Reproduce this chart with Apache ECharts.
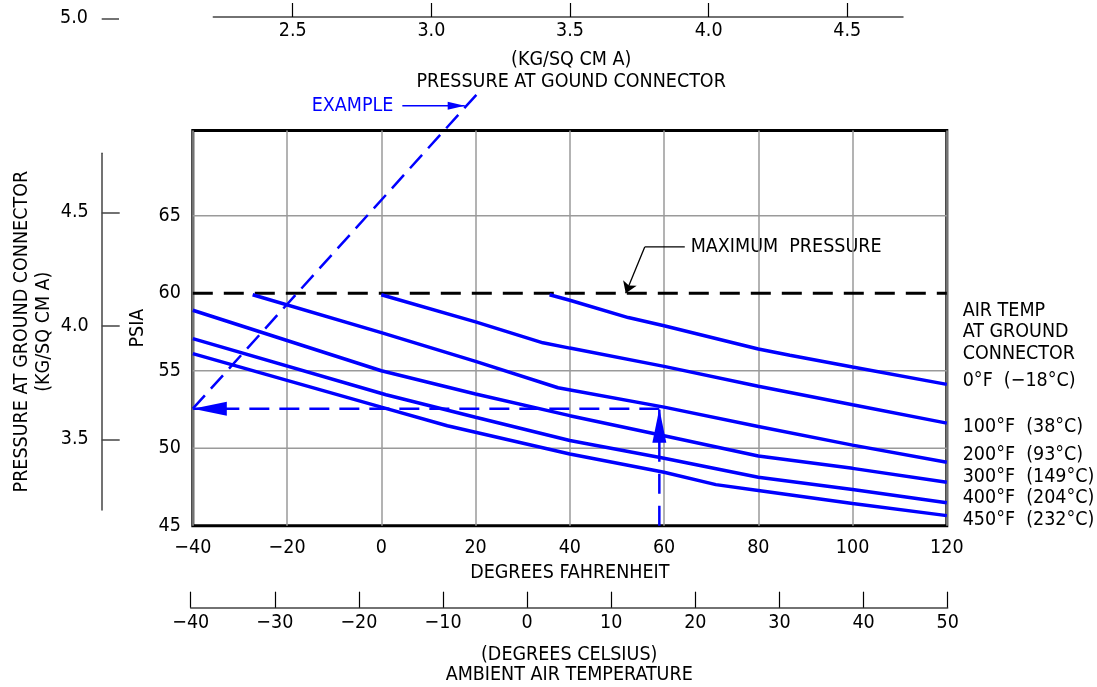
<!DOCTYPE html>
<html><head><meta charset="utf-8">
<script src="https://cdn.jsdelivr.net/npm/echarts@6/dist/echarts.min.js"></script>
<style>html,body{margin:0;padding:0;background:#fff}#c{width:1097px;height:687px}</style>
</head><body><div id="c"></div>
<script>
// ---------------- data ----------------
const fahrenheitRange = [-40, 120];
const celsiusRange = [-40, 50];
const psiaTicks = [45, 50, 55, 60, 65];
const psiaGridLines = [50, 55, 65];
const kgTopTicks = [2.5, 3.0, 3.5, 4.0, 4.5];
const kgLeftTicks = [3.5, 4.0, 4.5];
const maxPressure = 60;

// Air temperature at ground connector curves (x: deg F ambient, y: psia)
const curve0F_temp = [35.7, 40, 52.4, 60, 80, 86.7, 100, 120];
const curve0F_psia = [59.9, 59.55, 58.43, 57.9, 56.4, 56.0, 55.24, 54.12];
const curve100F_temp = [0, 20, 34.3, 40, 60, 80, 100, 120];
const curve100F_psia = [59.9, 58.15, 56.8, 56.46, 55.28, 54.0, 52.8, 51.62];
const curve200F_temp = [-27.3, 0, 20, 37.5, 60, 80, 100, 120];
const curve200F_psia = [59.9, 57.46, 55.6, 53.9, 52.65, 51.4, 50.2, 49.1];
const curve300F_temp = [-40, 0, 20, 40, 60, 80, 100, 120];
const curve300F_psia = [58.9, 55.0, 53.5, 52.1, 50.8, 49.5, 48.7, 47.8];
const curve400F_temp = [-40, 1, 20, 40, 60, 80, 100, 120];
const curve400F_psia = [57.07, 53.45, 52.0, 50.5, 49.35, 48.13, 47.34, 46.48];
const curve450F_temp = [-40, 0, 14, 40, 60, 71, 80, 100, 120];
const curve450F_psia = [56.1, 52.65, 51.45, 49.63, 48.45, 47.65, 47.27, 46.43, 45.65];

const curveLabels = ['0\u00B0F  (\u221218\u00B0C)', '100\u00B0F  (38\u00B0C)', '200\u00B0F  (93\u00B0C)',
                     '300\u00B0F  (149\u00B0C)', '400\u00B0F  (204\u00B0C)', '450\u00B0F  (232\u00B0C)'];
const legendTitle = ['AIR TEMP', 'AT GROUND', 'CONNECTOR'];

// example construction
const exampleTempF = 59;
const examplePsia = 52.55;
const exampleScaleLine = [[-40, 52.55], [20.17, 72.8]];
const exampleNoteArrow = [[4.46, 72.09], [17.7, 72.09]];
const maxPressureLeader = [[64.4, 62.99], [55.9, 62.99], [51.87, 60]];

// ---------------- font choice (narrow drafting look) ----------------
function hasFont(name) {
  const c = document.createElement('canvas').getContext('2d');
  const s = 'MAXIMUM PRESSURE 0123456789';
  c.font = '40px monospace'; const a = c.measureText(s).width;
  c.font = "40px '" + name + "', monospace"; const b = c.measureText(s).width;
  return Math.abs(a - b) > 0.5;
}
let FONT = "'Liberation Sans', Arial, sans-serif", FS = 17;
if (hasFont('DejaVu Sans Condensed')) { FONT = "'DejaVu Sans Condensed', 'Liberation Sans', sans-serif"; FS = 19.5; }
else if (hasFont('Liberation Sans Narrow')) { FONT = "'Liberation Sans Narrow', 'Liberation Sans', sans-serif"; FS = 19.5; }

// ---------------- chart ----------------
const BLUE = '#0000ff';
const txt = {color: '#000', fontSize: FS, fontFamily: FONT};
const minus = v => (v < 0 ? '\u2212' + Math.abs(v) : String(v));
const pair = (a, b) => a.map((v, i) => [v, b[i]]);

const curves = [
  pair(curve0F_temp, curve0F_psia), pair(curve100F_temp, curve100F_psia),
  pair(curve200F_temp, curve200F_psia), pair(curve300F_temp, curve300F_psia),
  pair(curve400F_temp, curve400F_psia), pair(curve450F_temp, curve450F_psia)
];

const series = [];
psiaGridLines.forEach(v => series.push({
  type: 'line', xAxisIndex: 0, yAxisIndex: 0, silent: true, symbol: 'none', z: 1,
  data: [[fahrenheitRange[0], v], [fahrenheitRange[1], v]],
  lineStyle: {color: '#9a9a9a', width: 1.5}
}));
series.push({
  type: 'line', xAxisIndex: 0, yAxisIndex: 0, silent: true, symbol: 'none', z: 3,
  data: [[fahrenheitRange[0], maxPressure], [fahrenheitRange[1], maxPressure]],
  lineStyle: {color: '#000', width: 3, type: [20, 11]}
});
curves.forEach(c => series.push({
  type: 'line', xAxisIndex: 0, yAxisIndex: 0, silent: true, symbol: 'none', z: 5,
  data: c, lineStyle: {color: BLUE, width: 3.5}
}));
series.push({
  type: 'line', xAxisIndex: 0, yAxisIndex: 0, silent: true, symbol: 'none', z: 6, clip: false,
  data: exampleScaleLine, lineStyle: {color: BLUE, width: 2.5, type: [18, 9]}
});
series.push({
  type: 'line', xAxisIndex: 0, yAxisIndex: 0, silent: true, symbol: 'none', z: 6,
  data: [[exampleTempF, examplePsia], [fahrenheitRange[0], examplePsia]],
  lineStyle: {color: BLUE, width: 2.5, type: [20, 10]}
});
series.push({
  type: 'line', xAxisIndex: 0, yAxisIndex: 0, silent: true, symbol: 'none', z: 6,
  data: [[exampleTempF, 45], [exampleTempF, examplePsia]],
  lineStyle: {color: BLUE, width: 2.5, type: [20, 12]}
});
series.push({
  type: 'line', xAxisIndex: 0, yAxisIndex: 0, silent: true, symbol: 'none', z: 6, clip: false,
  data: exampleNoteArrow, lineStyle: {color: BLUE, width: 1.5}
});
series.push({
  type: 'scatter', xAxisIndex: 0, yAxisIndex: 0, silent: true, z: 8, clip: false,
  itemStyle: {color: BLUE, opacity: 1},
  data: [
    {value: [fahrenheitRange[0], examplePsia], symbol: 'path://M0,7L34,0L34,14Z', symbolSize: [34, 14], symbolOffset: ['50%', 0]},
    {value: [exampleTempF, examplePsia], symbol: 'path://M7,0L14,34L0,34Z', symbolSize: [14, 34], symbolOffset: [0, '50%']},
    {value: exampleNoteArrow[1], symbol: 'path://M0,0L17,4L0,8Z', symbolSize: [17, 8], symbolOffset: ['-50%', 0]}
  ]
});
series.push({
  type: 'line', xAxisIndex: 0, yAxisIndex: 0, silent: true, symbol: 'none', z: 9, clip: false,
  data: maxPressureLeader.slice(0, 2), lineStyle: {color: '#000', width: 1.3}
});
series.push({
  type: 'lines', coordinateSystem: 'cartesian2d', xAxisIndex: 0, yAxisIndex: 0, silent: true, z: 9,
  symbol: ['none', 'arrow'], symbolSize: 11,
  lineStyle: {color: '#000', width: 1.3, opacity: 1},
  data: [{coords: maxPressureLeader.slice(1)}]
});

const gText = (t, x, y, extra) => ({type: 'text', x: x, y: y,
  style: Object.assign({text: t, fill: '#000', fontSize: FS, fontFamily: FONT, verticalAlign: 'middle'}, extra || {})});
const graphic = [
  gText('EXAMPLE', 311.7, 106, {fill: BLUE}),
  gText('MAXIMUM  PRESSURE', 690.7, 247),
  gText('5.0', 88, 17.5, {align: 'right'}),
  {type: 'line', shape: {x1: 101.7, y1: 19, x2: 119, y2: 19}, style: {stroke: '#444', lineWidth: 1.5}}
];
const titleY = [311, 332, 354];
legendTitle.forEach((t, i) => graphic.push(gText(t, 962.7, titleY[i])));
const labelY = [381, 427, 455, 477, 498, 520];
curveLabels.forEach((t, i) => graphic.push(gText(t, 962.7, labelY[i])));

const option = {
  animation: false,
  backgroundColor: '#fff',
  textStyle: {fontFamily: FONT},
  grid: [
    {left: 192.8, top: 130.5, width: 754, height: 395.2, show: true, borderColor: '#000', borderWidth: 3, outerBoundsMode: 'none'},
    {left: 190.7, top: 591.7, width: 757, height: 16, outerBoundsMode: 'none'},
    {left: 213.3, top: 3, width: 689.7, height: 14, outerBoundsMode: 'none'},
    {left: 101.7, top: 153.3, width: 20, height: 356.7, outerBoundsMode: 'none'}
  ],
  xAxis: [
    {gridIndex: 0, type: 'value', min: fahrenheitRange[0], max: fahrenheitRange[1], interval: 20,
     axisLine: {show: false}, axisTick: {show: false},
     splitLine: {show: true, lineStyle: {color: '#9a9a9a', width: 1.5}},
     axisLabel: Object.assign({margin: 12, formatter: minus}, txt),
     name: 'DEGREES FAHRENHEIT', nameLocation: 'middle', nameGap: 36,
     nameTextStyle: Object.assign({lineHeight: 20}, txt)},
    {gridIndex: 1, type: 'value', min: celsiusRange[0], max: celsiusRange[1], interval: 10,
     axisLine: {show: true, lineStyle: {color: '#444', width: 1.5}},
     axisTick: {show: true, inside: true, length: 16, lineStyle: {color: '#000', width: 1.2}},
     splitLine: {show: false},
     axisLabel: Object.assign({margin: 5, formatter: minus}, txt),
     name: '(DEGREES CELSIUS)\nAMBIENT AIR TEMPERATURE', nameLocation: 'middle', nameGap: 37,
     nameTextStyle: Object.assign({lineHeight: 20}, txt)},
    {gridIndex: 2, type: 'value', min: 2.2137, max: 4.7009,
     axisLine: {show: true, lineStyle: {color: '#444', width: 1.5}},
     axisTick: {show: true, inside: true, length: 14, customValues: kgTopTicks, lineStyle: {color: '#000', width: 1.2}},
     splitLine: {show: false},
     axisLabel: Object.assign({margin: 4, customValues: kgTopTicks, formatter: v => v.toFixed(1)}, txt),
     name: '(KG/SQ CM A)\nPRESSURE AT GOUND CONNECTOR', nameLocation: 'middle', nameGap: 32,
     nameTextStyle: Object.assign({lineHeight: 22, padding: [0, 0, 0, 26]}, txt)},
    {gridIndex: 3, type: 'value', show: false, min: 0, max: 1}
  ],
  yAxis: [
    {gridIndex: 0, type: 'value', min: 45, max: 70.5, interval: 5,
     axisLine: {show: false}, axisTick: {show: false}, splitLine: {show: false},
     axisLabel: Object.assign({margin: 12, customValues: psiaTicks}, txt),
     name: 'PSIA', nameLocation: 'middle', nameGap: 43, nameRotate: 90, nameTextStyle: txt},
    {gridIndex: 1, type: 'value', show: false},
    {gridIndex: 2, type: 'value', show: false},
    {gridIndex: 3, type: 'value', min: 3.1885, max: 4.76, position: 'left',
     axisLine: {show: true, lineStyle: {color: '#444', width: 1.5}},
     axisTick: {show: true, inside: true, length: 18, customValues: kgLeftTicks, lineStyle: {color: '#444', width: 1.5}},
     splitLine: {show: false},
     axisLabel: Object.assign({margin: 13, customValues: kgLeftTicks, formatter: v => v.toFixed(1)}, txt),
     name: 'PRESSURE AT GROUND CONNECTOR\n(KG/SQ CM A)', nameLocation: 'middle', nameGap: 47, nameRotate: 90,
     nameTextStyle: Object.assign({lineHeight: 22}, txt)}
  ],
  series: series,
  graphic: graphic
};
const chart = echarts.init(document.getElementById('c'));
chart.setOption(option);
</script></body></html>
